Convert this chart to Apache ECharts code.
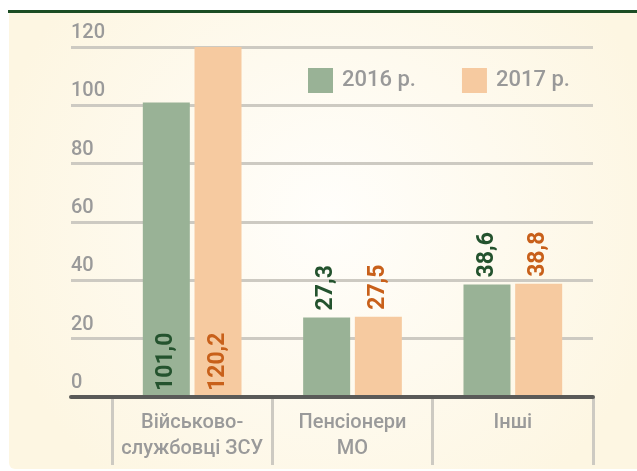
<!DOCTYPE html>
<html>
<head>
<meta charset="utf-8">
<script src="https://cdn.jsdelivr.net/npm/echarts@6/dist/echarts.min.js"></script>
<style>
html,body{margin:0;padding:0;background:#fff;}
#chart{width:637px;height:471px;}
</style>
</head>
<body>
<div id="chart"></div>
<script>
var categories = ['Військово-\nслужбовці ЗСУ', 'Пенсіонери\nМО', 'Інші'];
var seriesNames = ['2016 р.', '2017 р.'];
var values2016 = [101.0, 27.3, 38.6];
var values2017 = [120.2, 27.5, 38.8];
var yTicks = [0, 20, 40, 60, 80, 100, 120];

var chart = echarts.init(document.getElementById('chart'), null, {renderer: 'canvas'});
var FONT = 'Roboto';

function fmt(p) { return p.value.toFixed(1).replace('.', ','); }

function makeData(arr, color) {
  return arr.map(function (v, i) {
    var inside = i === 0;
    return {
      value: v,
      label: {
        show: true,
        position: inside ? 'insideBottom' : 'top',
        distance: inside ? 6 : 7,
        rotate: 90,
        align: 'left',
        verticalAlign: 'middle',
        color: color,
        fontFamily: FONT,
        fontWeight: 'bold',
        fontSize: 23,
        formatter: fmt
      }
    };
  });
}

var option = {
  animation: false,
  graphic: [
    {
      type: 'rect', z: -10, silent: true,
      shape: {x: 9, y: 13, width: 640, height: 456, r: [0, 0, 0, 6]},
      style: {
        fill: {
          type: 'radial', x: 0.5, y: 0.45, r: 0.75,
          colorStops: [
            {offset: 0, color: '#fffefb'},
            {offset: 1, color: '#fdf6e2'}
          ]
        }
      }
    },
    {
      type: 'rect', z: -9, silent: true,
      shape: {x: 8, y: 10, width: 629, height: 3},
      style: {fill: '#1b4d24'}
    }
  ],
  legend: {
    left: 303, top: 63,
    itemWidth: 25, itemHeight: 25, itemGap: 46,
    icon: 'rect',
    data: seriesNames,
    textStyle: {color: '#999999', fontFamily: FONT, fontSize: 22, fontWeight: 500, padding: [0, 0, 0, 4]}
  },
  grid: [
    {left: 71, right: 44, top: 47, bottom: 74},
    {left: 112, right: 44, top: 47, bottom: 74}
  ],
  xAxis: [
    {
      gridIndex: 0, type: 'category', data: [''],
      axisLine: {show: true, lineStyle: {color: '#5a5a58', width: 4}},
      axisTick: {show: false}, axisLabel: {show: false}, splitLine: {show: false}, z: 5
    },
    {
      gridIndex: 1, type: 'category', data: categories,
      axisLine: {show: false},
      axisTick: {show: true, length: 68, lineStyle: {color: '#cdcac2', width: 3}},
      axisLabel: {interval: 0, color: '#9a9a9a', fontFamily: FONT, fontSize: 20, fontWeight: 500, lineHeight: 26, margin: 13}
    }
  ],
  yAxis: [
    {
      gridIndex: 0, type: 'value', min: yTicks[0], max: yTicks[yTicks.length - 1], interval: 20,
      axisLine: {show: false}, axisTick: {show: false},
      splitLine: {show: true, lineStyle: {color: '#cdcac2', width: 3}},
      axisLabel: {
        inside: true, margin: 0, align: 'left', verticalAlign: 'bottom',
        color: '#9a9a9a', fontFamily: FONT, fontSize: 20, fontWeight: 500, lineHeight: 20, padding: [0, 0, 4, 0]
      }
    },
    {
      gridIndex: 1, type: 'value', min: yTicks[0], max: yTicks[yTicks.length - 1], interval: 20,
      show: false
    }
  ],
  series: [
    {
      name: seriesNames[0], type: 'bar', xAxisIndex: 1, yAxisIndex: 1,
      barWidth: 47, barGap: '10%',
      itemStyle: {color: '#99b296'},
      data: makeData(values2016, '#24532e'), z: 3
    },
    {
      name: seriesNames[1], type: 'bar', xAxisIndex: 1, yAxisIndex: 1,
      barWidth: 47, barGap: '10%',
      itemStyle: {color: '#f6caa0'},
      data: makeData(values2017, '#c8601a'), z: 3
    }
  ]
};
chart.setOption(option);
</script>
</body>
</html>
